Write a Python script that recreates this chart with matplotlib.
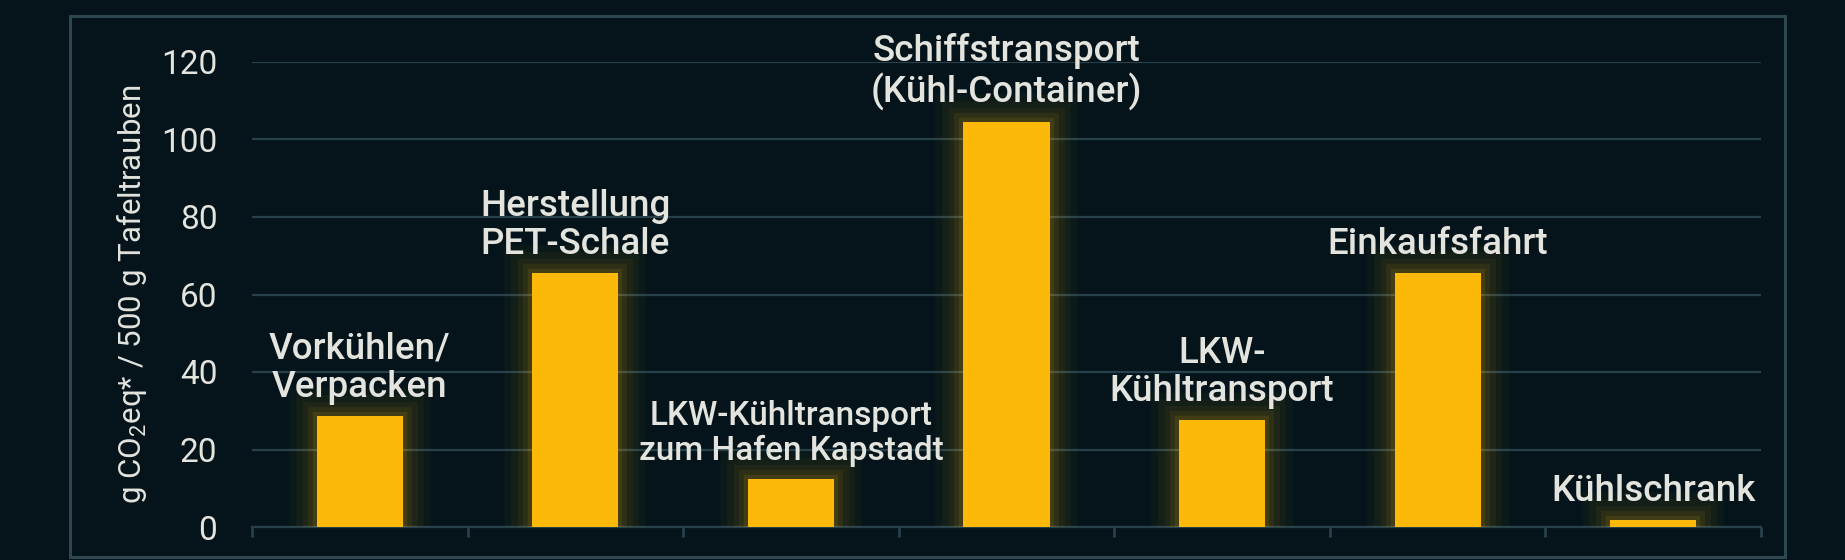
import matplotlib
matplotlib.use("Agg")
import matplotlib.pyplot as plt
import matplotlib.patheffects as pe
from matplotlib.patches import Rectangle
import numpy as np

categories = [
    "Vorkühlen/\nVerpacken",
    "Herstellung\nPET-Schale",
    "LKW-Kühltransport\nzum Hafen Kapstadt",
    "Schiffstransport\n(Kühl-Container)",
    "LKW-\nKühltransport",
    "Einkaufsfahrt",
    "Kühlschrank",
]
values = [28.6, 65.5, 12.5, 104.5, 27.5, 65.5, 1.8]
yticks = [0, 20, 40, 60, 80, 100, 120]
ylabel = r"g CO$_2$eq* / 500 g Tafeltrauben"

BG = "#04141a"
GRID = "#27404a"
FRAME = "#2c4752"
BAR = "#fcb90a"
TXT = "#e4e4df"

plt.rcParams["font.family"] = ["Roboto", "DejaVu Sans"]
plt.rcParams["mathtext.fontset"] = "custom"
plt.rcParams["mathtext.rm"] = "Roboto"
plt.rcParams["mathtext.it"] = "Roboto:italic"
plt.rcParams["mathtext.bf"] = "Roboto:bold"

W, H = 1845, 560
fig = plt.figure(figsize=(W / 100, H / 100), dpi=100, facecolor=BG)

# outer frame
fig.patches.append(Rectangle((70 / W, 1 - 557 / H), (1785 - 70) / W, (557 - 16) / H,
                             transform=fig.transFigure, fill=False,
                             edgecolor=FRAME, linewidth=2.2, zorder=0))

ax = fig.add_axes([252 / W, 1 - 527 / H, (1761 - 252) / W, (527 - 62) / H])
ax.set_facecolor("none")

x = np.arange(len(categories))
bars = ax.bar(x, values, width=0.4, color=BAR, zorder=3)
glow = [pe.withStroke(linewidth=lw, foreground=BAR, alpha=a)
        for lw, a in [(40, 0.03), (30, 0.04), (21, 0.05), (13, 0.07), (6, 0.1)]]
for b in bars:
    b.set_path_effects(glow + [pe.Normal()])

ax.set_xlim(-0.5, len(categories) - 0.5)
ax.set_ylim(0, 120)
ax.set_yticks(yticks)
ax.set_yticklabels([str(t) for t in yticks], color=TXT, fontsize=24)
ax.tick_params(axis="y", length=0, pad=25)
ax.set_xticks(np.arange(len(categories) + 1) - 0.5)
ax.set_xticklabels([])
ax.tick_params(axis="x", length=7, width=2, color=GRID, direction="out")

ax.grid(axis="y", color=GRID, linewidth=1.6, zorder=1)
ax.set_axisbelow(True)
for s in ["top", "right", "left"]:
    ax.spines[s].set_visible(False)
ax.spines["bottom"].set_color(GRID)
ax.spines["bottom"].set_linewidth(1.6)

ax.set_ylabel(ylabel, color=TXT, fontsize=22.5, labelpad=9)

for i, (c, v) in enumerate(zip(categories, values)):
    fs = 24 if i == 2 else 26.5
    ax.annotate(c, (i, v), xytext=(0, 8), textcoords="offset points",
                ha="center", va="bottom", color=TXT, fontsize=fs,
                fontweight="medium", linespacing=1.12,
                annotation_clip=False, zorder=4)

fig.savefig("out.png", dpi=100, facecolor=BG)
